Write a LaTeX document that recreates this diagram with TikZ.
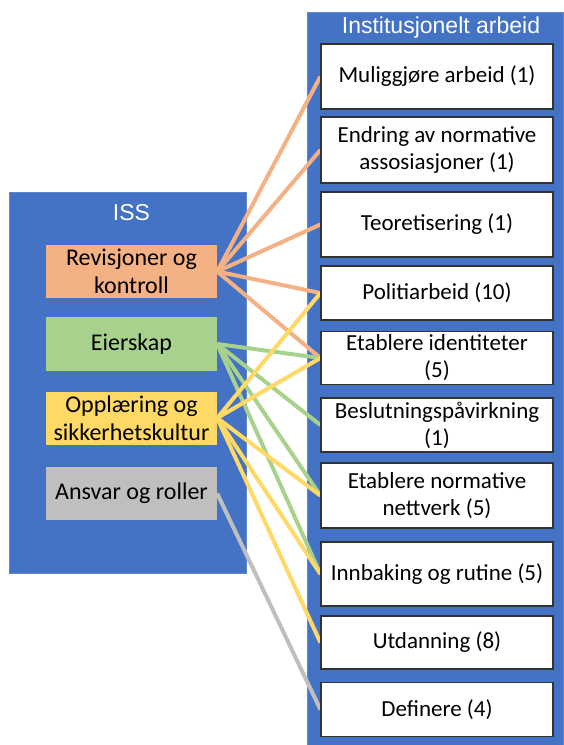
\documentclass[tikz,border=0pt]{standalone}
\usepackage{fontspec}
\setmainfont{Carlito}
\newfontfamily\headfont{Liberation Sans}
\usepackage{tikz}
\usetikzlibrary{backgrounds}

\pgfdeclarelayer{links}
\pgfsetlayers{background,links,main}

\definecolor{panelblue}{HTML}{4472C4}
\definecolor{revorange}{HTML}{F4B183}
\definecolor{eiergreen}{HTML}{A9D18E}
\definecolor{oppyellow}{HTML}{FFD966}
\definecolor{ansgray}{HTML}{BFBFBF}

\tikzset{
  panel/.style={fill=panelblue, draw=panelblue!85!white, line width=0.8pt},
  heading/.style={text=white, font=\headfont\fontsize{23}{27}\selectfont},
  theme/.style={minimum width=171pt, minimum height=53pt, inner sep=0pt, align=center,
    font=\fontsize{24}{28}\selectfont},
  work/.style={draw=black!80, line width=1.2pt, fill=white, minimum width=232pt,
    inner sep=0pt, align=center, font=\fontsize{23}{27}\selectfont},
  link/.style={line width=4pt}
}

\begin{document}
\begin{tikzpicture}[x=1pt, y=-1pt]
  \useasboundingbox (0,0) rectangle (563,745);

  \begin{pgfonlayer}{background}
    \fill[white] (0,0) rectangle (563,745);
    \draw[panel] (9,192) rectangle (246,573);
    \draw[panel] (307,12) rectangle (563,746);
  \end{pgfonlayer}

  \node[heading] (iss) at (131.5,213) {ISS};
  \node[heading] (inst) at (441,28) {Institusjonelt arbeid};

  % ISS
  \node[theme, fill=revorange, minimum height=53pt] (rev) at (131.5,271.5) {Revisjoner og\\kontroll};
  \node[theme, fill=eiergreen, minimum height=54pt] (eier) at (131.5,344) {Eierskap};
  \node[theme, fill=oppyellow, minimum height=53pt] (opp) at (131.5,418) {Opplæring og\\sikkerhetskultur};
  \node[theme, fill=ansgray, minimum height=53pt] (ansvar) at (131.5,493.5) {Ansvar og roller};

  % institusjonelt arbeid
  \node[work, minimum height=65pt] (mulig) at (437,76.5) {Muliggjøre arbeid (1)};
  \node[work, minimum height=66pt] (endring) at (437,150) {Endring av normative\\assosiasjoner (1)};
  \node[work, minimum height=65pt] (teori) at (437,224.5) {Teoretisering (1)};
  \node[work, minimum height=54pt] (politi) at (437,293) {Politiarbeid (10)};
  \node[work, minimum height=53pt] (ident) at (437,358) {Etablere identiteter\\(5)};
  \node[work, minimum height=54pt] (beslut) at (437,425) {Beslutningspåvirkning\\(1)};
  \node[work, minimum height=65pt] (nettverk) at (437,495.5) {Etablere normative\\nettverk (5)};
  \node[work, minimum height=64pt] (innbak) at (437,574) {Innbaking og rutine (5)};
  \node[work, minimum height=53pt] (utdan) at (437,642.5) {Utdanning (8)};
  \node[work, minimum height=54pt] (defin) at (437,709.5) {Definere (4)};

  \begin{pgfonlayer}{links}
    \path[link, draw=revorange]
    (rev.east) edge (mulig.west)
    (rev.east) edge (endring.west)
    (rev.east) edge (teori.west)
    (rev.east) edge (politi.west)
    (rev.east) edge (ident.west)
    ;
    \path[link, draw=eiergreen]
    (eier.east) edge (ident.west)
    (eier.east) edge (beslut.west)
    (eier.east) edge (nettverk.west)
    (eier.east) edge (innbak.west)
    ;
    \path[link, draw=oppyellow]
    (opp.east) edge (politi.west)
    (opp.east) edge (ident.west)
    (opp.east) edge (nettverk.west)
    (opp.east) edge (innbak.west)
    (opp.east) edge (utdan.west)
    ;
    \path[link, draw=ansgray]
    (ansvar.east) edge (defin.west)
    ;
  \end{pgfonlayer}
\end{tikzpicture}
\end{document}
